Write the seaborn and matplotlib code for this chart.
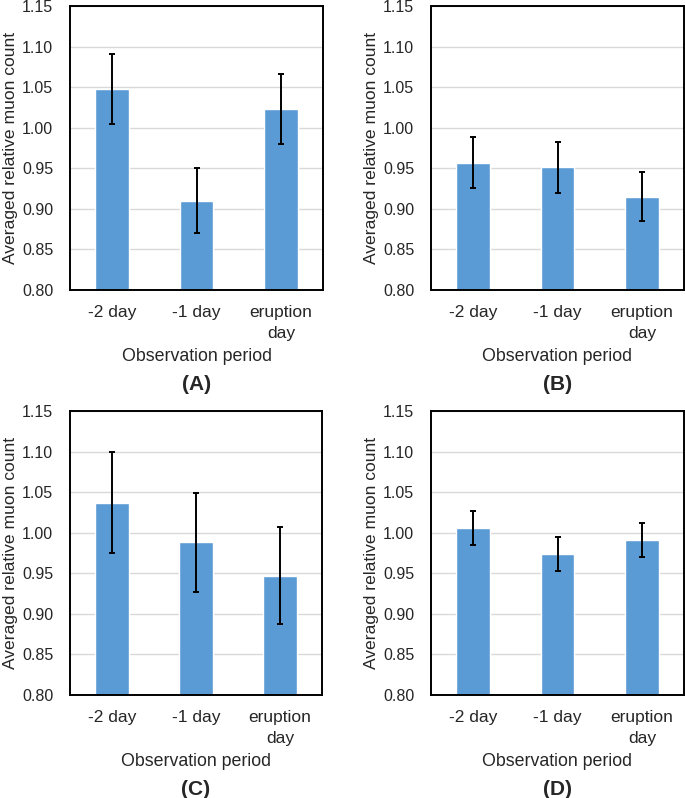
import matplotlib
matplotlib.use("Agg")
import matplotlib.pyplot as plt
import seaborn as sns
import pandas as pd

categories = ["-2 day", "-1 day", "eruption\nday"]
values_A = [1.048, 0.910, 1.023]
errors_A = [0.043, 0.040, 0.043]
values_B = [0.957, 0.951, 0.915]
errors_B = [0.031, 0.031, 0.030]
values_C = [1.037, 0.988, 0.947]
errors_C = [0.062, 0.061, 0.060]
values_D = [1.006, 0.974, 0.991]
errors_D = [0.021, 0.021, 0.021]
panel_labels = ["(A)", "(B)", "(C)", "(D)"]
yticks = [0.80, 0.85, 0.90, 0.95, 1.00, 1.05, 1.10, 1.15]

sns.set_theme(style="white")
plt.rcParams['font.family'] = ['Liberation Sans', 'DejaVu Sans']

W, H = 685, 798
fig = plt.figure(figsize=(W / 100, H / 100), dpi=100)

# axes boxes in pixels: left, top, right, bottom
boxes = [(70, 6, 323, 290), (431, 6, 684, 290),
         (70, 411, 322, 695), (431, 411, 684, 695)]
panels = [(values_A, errors_A), (values_B, errors_B),
          (values_C, errors_C), (values_D, errors_D)]

bar_color = "#5B9BD5"

for (l, t, r, b), (vals, errs), plabel in zip(boxes, panels, panel_labels):
    ax = fig.add_axes([l / W, 1 - b / H, (r - l) / W, (b - t) / H])
    df = pd.DataFrame({"period": categories, "value": vals, "err": errs})
    sns.barplot(data=df, x="period", y="value", color=bar_color,
                saturation=1, width=0.4, ax=ax, errorbar=None, zorder=2)
    xpos = list(range(len(categories)))
    ax.errorbar(xpos, df["value"], yerr=df["err"], fmt="none",
                ecolor="black", elinewidth=1.4, capsize=2.5, capthick=1.4,
                zorder=3)
    ax.set_ylim(0.80, 1.15)
    ax.set_xlim(-0.5, 2.5)
    ax.set_yticks(yticks)
    ax.set_yticklabels([f"{v:.2f}" for v in yticks], fontsize=11.5)
    ax.tick_params(axis="y", length=0, pad=12)
    ax.tick_params(axis="x", length=0, pad=11, labelsize=12.5)
    for lab in ax.get_xticklabels():
        lab.set_linespacing(1.45)
    ax.yaxis.grid(True, color="#D9D9D9", linewidth=1.0, zorder=0)
    ax.set_axisbelow(True)
    for sp in ax.spines.values():
        sp.set_visible(True)
        sp.set_color("black")
        sp.set_linewidth(1.4)
    ax.set_xlabel("Observation period", fontsize=12.8)
    ax.xaxis.set_label_coords(0.5, -0.205)
    ax.set_ylabel("Averaged relative muon count", fontsize=12.6)
    ax.yaxis.set_label_coords(-0.207, 0.5)
    ax.text(0.5, -0.333, plabel, transform=ax.transAxes, ha="center",
            va="center", fontsize=15, fontweight="bold")

fig.savefig("out.png", dpi=100)
